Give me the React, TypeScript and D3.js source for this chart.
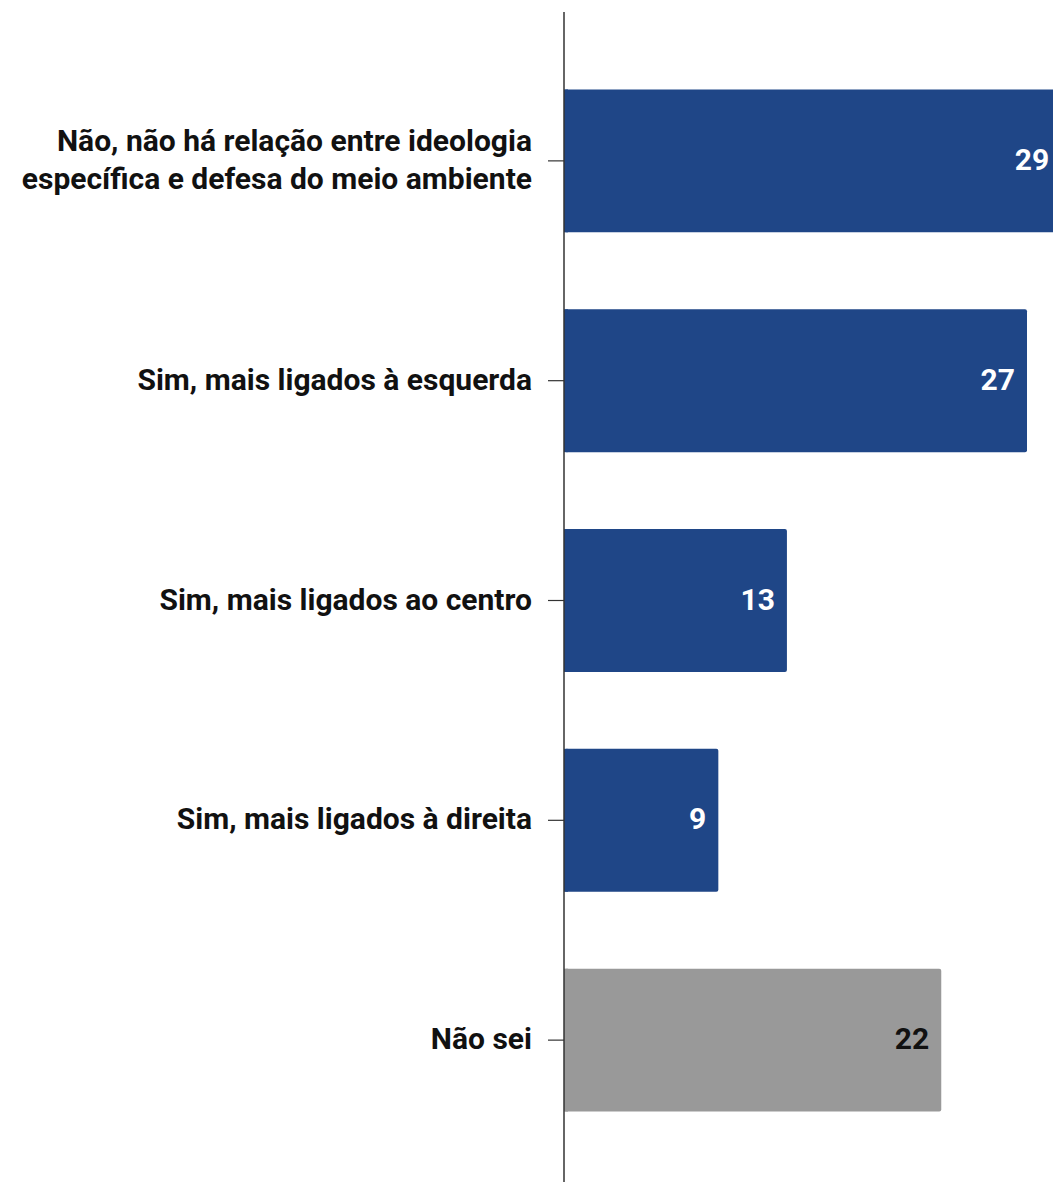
import React from "react";
import * as d3 from "d3";

const categories = [
  ["Não, não há relação entre ideologia", "específica e defesa do meio ambiente"],
  ["Sim, mais ligados à esquerda"],
  ["Sim, mais ligados ao centro"],
  ["Sim, mais ligados à direita"],
  ["Não sei"],
];
const values = [29, 27, 13, 9, 22];
const barColors = ["#1f4687", "#1f4687", "#1f4687", "#1f4687", "#999999"];
const labelColors = ["#ffffff", "#ffffff", "#ffffff", "#ffffff", "#111111"];

const W = 1053;
const H = 1182;
const X0 = 564;

export default function App() {
  const keys = categories.map((_, i) => String(i));
  const y = d3.scaleBand<string>().domain(keys).range([12.5, 1188.5]).paddingInner(0.35).paddingOuter(0.35);
  const x = d3.scaleLinear().domain([0, 27]).range([X0, 1027]);
  const font = "Roboto, 'Noto Sans', sans-serif";
  return (
    <svg width={W} height={H} style={{ position: "absolute", left: 0, top: 0, background: "#fff" }} fontFamily={font}>
      {values.map((v, i) => {
        const yy = y(String(i))!;
        const bw = y.bandwidth();
        const xe = x(v);
        const cy = yy + bw / 2;
        const lines = categories[i];
        return (
          <g key={i}>
            <rect x={X0} y={yy} width={xe - X0} height={bw} fill={barColors[i]} rx={2} />
            <rect x={X0} y={yy} width={4} height={bw} fill={barColors[i]} />
            <text x={xe - 12} y={cy} dy="0.3em" textAnchor="end" fill={labelColors[i]} fontSize={30} fontWeight={700}>{v}</text>
            <line x1={548} x2={X0} y1={cy} y2={cy} stroke="#333" strokeWidth={1.2} />
            {lines.map((l, j) => (
              <text key={j} x={532} y={cy + (j - (lines.length - 1) / 2) * 38} dy="0.3em" textAnchor="end" fill="#111" fontSize={30} fontWeight={700}>{l}</text>
            ))}
          </g>
        );
      })}
      <line x1={X0} x2={X0} y1={12} y2={H} stroke="#333" strokeWidth={1.5} />
    </svg>
  );
}
